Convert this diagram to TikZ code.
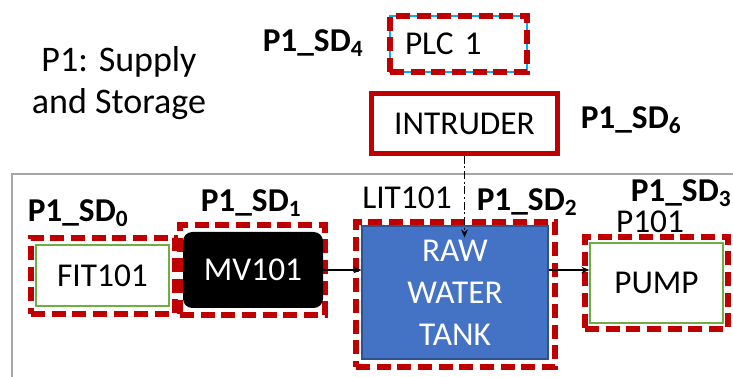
\documentclass[tikz,border=0pt]{standalone}
\usepackage{fontspec}
\setmainfont{Carlito}
\usetikzlibrary{arrows.meta,positioning,calc}
\definecolor{sdRed}{HTML}{C00000}
\definecolor{tankBlue}{HTML}{4472C4}
\definecolor{tankEdge}{HTML}{2F528F}
\definecolor{sensGreen}{HTML}{70AD47}
\definecolor{plcCyan}{HTML}{00B0F0}
\definecolor{frameGray}{HTML}{A6A6A6}
\tikzset{
    sdZone/.style={
        draw=sdRed,
        line width=4.5pt,
        dash pattern=on 10.5pt off 5pt
    },
    sdTag/.style={
        font=\fontsize{25}{30}\selectfont\bfseries,
        inner sep=0pt
    },
    plainTag/.style={
        font=\fontsize{25}{30}\selectfont,
        inner sep=0pt
    },
    sensBox/.style={
        draw=sensGreen,
        fill=white,
        line width=1pt,
        font=\fontsize{25}{30}\selectfont
    },
    flowArrow/.style={-{Stealth[length=6pt,width=5pt]},line width=0.8pt}
}

\begin{document}
\begin{tikzpicture}[x=0.75pt,y=-0.75pt]
        \useasboundingbox (0,0) rectangle (733,377);

        % stage frame
        \draw[frameGray,line width=1.5pt] (733,174) -- (12,174) -- (12,377);

        \node[plainTag,align=center,font=\fontsize{27}{32}\selectfont] (title) at (119,83)
            {P1: Supply\\and Storage};

        % attack zones
        \node[sdZone,minimum width=108pt,minimum height=57pt] (z0) at (103,276) {};
        \node[sdZone,minimum width=108.75pt,minimum height=67.5pt] (z1) at (252.5,270) {};
        \node[sdZone,minimum width=149.25pt,minimum height=108.75pt] (z2) at (455.5,294.5) {};
        \node[sdZone,minimum width=107.25pt,minimum height=69pt] (z3) at (656.5,283) {};

        % devices
        \node[sensBox,minimum width=99.75pt,minimum height=45.75pt] (fit) at (102.5,275.5) {FIT101};
        \node[fill=black,text=white,rounded corners=7pt,minimum width=105pt,minimum height=57pt,
            font=\fontsize{25}{30}\selectfont] (mv) at (253,270) {MV101};
        \node[fill=tankBlue,draw=tankEdge,line width=0.8pt,text=white,align=center,
            minimum width=139.5pt,minimum height=99.75pt,
            font=\fontsize{25}{31.5}\selectfont] (tank) at (455,292.5) {RAW\\WATER\\TANK};
        \node[sensBox,minimum width=99.75pt,minimum height=60pt] (pump) at (656.5,283) {PUMP};

        \node[draw=plcCyan,line width=0.8pt,
            postaction={draw=sdRed,line width=4.5pt,dash pattern=on 10.5pt off 5pt},
            text width=80.25pt,inner xsep=11.25pt,align=left,minimum height=42pt,
            font=\fontsize{25}{30}\selectfont] (plc) at (458.5,44) {PLC 1};
        \node[draw=sdRed,line width=3.5pt,minimum width=139.5pt,minimum height=45pt,
            font=\fontsize{25}{30}\selectfont] (intruder) at (464.5,123.5) {INTRUDER};

        % labels
        \node[sdTag] (sd4) at (313,43) {P1\_SD\textsubscript{4}};
        \node[sdTag] (sd6) at (631,120) {P1\_SD\textsubscript{6}};
        \node[sdTag] (sd0) at (78,213) {P1\_SD\textsubscript{0}};
        \node[sdTag] (sd1) at (251,203) {P1\_SD\textsubscript{1}};
        \node[sdTag] (sd2) at (527,202) {P1\_SD\textsubscript{2}};
        \node[sdTag] (sd3) at (681,193) {P1\_SD\textsubscript{3}};
        \node[plainTag] (lit) at (407,198) {LIT101};
        \node[plainTag] (p101) at (650,222) {P101};

        % flows
        \draw[flowArrow] (mv.east) -- (mv.east -| tank.west);
        \draw[flowArrow] (tank.east |- mv.east) -- (pump.west |- mv.east);
        \draw[flowArrow,line width=1pt,dash pattern=on 6pt off 2pt on 1.5pt off 2pt,shorten >=-9pt]
            (intruder.south) -- (intruder.south |- tank.north);
\end{tikzpicture}
\end{document}
